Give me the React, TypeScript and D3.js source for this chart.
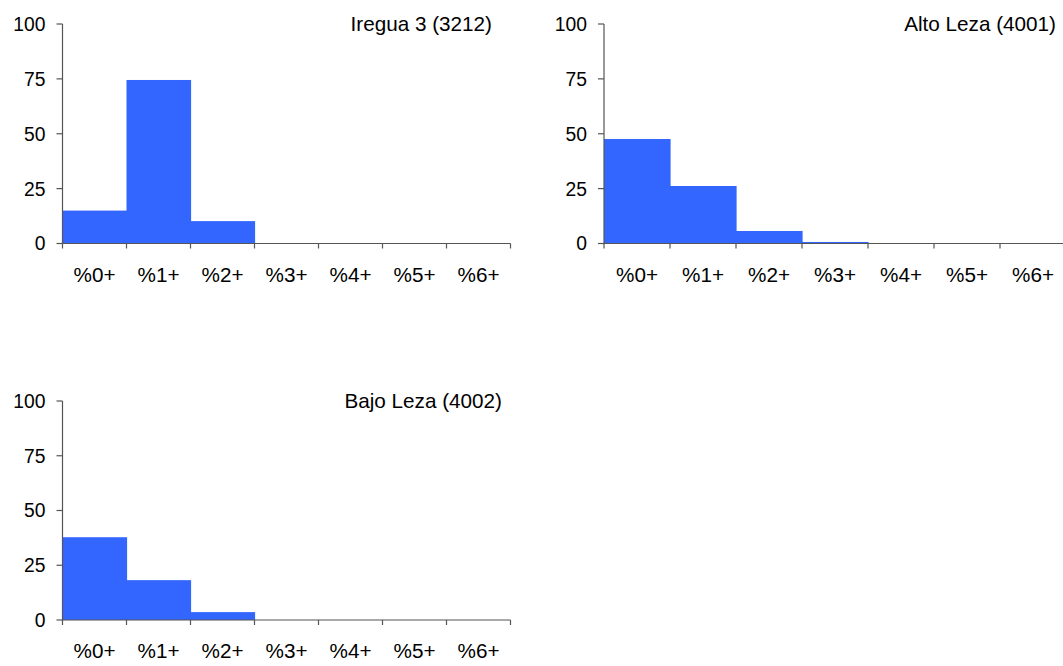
import React from "react";
import * as d3 from "d3";

const categories = ["%0+", "%1+", "%2+", "%3+", "%4+", "%5+", "%6+"];
const yTicks = [0, 25, 50, 75, 100];
const ireguaValues = [15, 74.5, 10.2, 0, 0, 0, 0];
const altoValues = [47.6, 26.2, 5.7, 0.7, 0, 0, 0];
const bajoValues = [37.8, 18.2, 3.6, 0, 0, 0, 0];
const titles = ["Iregua 3 (3212)", "Alto Leza (4001)", "Bajo Leza (4002)"];

const FONT = "'Liberation Sans', Arial, sans-serif";
const BAR = "#3366FF";
const AXIS = "#555555";

type PanelProps = {
  title: string;
  values: number[];
  x0: number;
  x1: number;
  yTop: number;
  yBase: number;
  titleRight: number;
};

function Panel({ title, values, x0, x1, yTop, yBase, titleRight }: PanelProps) {
  const x = d3.scaleBand<string>().domain(categories).range([x0, x1]).padding(0);
  const y = d3.scaleLinear().domain([0, 100]).range([yBase, yTop]);
  const bw = x.bandwidth();
  const boundaries = categories.map((c) => x(c) as number).concat([x1]);
  return (
    <g>
      {values.map((v, i) => (
        <rect
          key={i}
          x={x(categories[i])}
          y={y(v)}
          width={bw + (i < values.length - 1 ? 0.6 : 0)}
          height={y(0) - y(v)}
          fill={BAR}
        />
      ))}
      <line x1={x0} x2={x0} y1={y(100)} y2={y(0)} stroke={AXIS} strokeWidth={1.2} />
      <line x1={x0} x2={x1} y1={y(0)} y2={y(0)} stroke={AXIS} strokeWidth={1.2} />
      {yTicks.map((t) => (
        <g key={t}>
          <line x1={x0 - 6} x2={x0} y1={y(t)} y2={y(t)} stroke={AXIS} strokeWidth={1.2} />
          <text
            x={x0 - 17}
            y={y(t)}
            dy="0.36em"
            textAnchor="end"
            fontFamily={FONT}
            fontSize={19.3}
            fill="#000"
          >
            {t}
          </text>
        </g>
      ))}
      {boundaries.map((b, i) => (
        <line key={i} x1={b} x2={b} y1={y(0)} y2={y(0) + 5} stroke={AXIS} strokeWidth={1.2} />
      ))}
      {categories.map((c) => (
        <text
          key={c}
          x={(x(c) as number) + bw / 2}
          y={y(0) + 38}
          textAnchor="middle"
          fontFamily={FONT}
          fontSize={20.7}
          fill="#000"
        >
          {c}
        </text>
      ))}
      <text
        x={titleRight}
        y={y(100) + 6.5}
        textAnchor="end"
        fontFamily={FONT}
        fontSize={20.7}
        fill="#000"
      >
        {title}
      </text>
    </g>
  );
}

export default function App() {
  return (
    <svg
      width={1063}
      height={666}
      style={{ position: "absolute", left: 0, top: 0, background: "#fff" }}
    >
      <rect x={0} y={0} width={1063} height={666} fill="#fff" />
      <Panel title={titles[0]} values={ireguaValues} x0={62.5} x1={510.5} yTop={24} yBase={243.5} titleRight={492} />
      <Panel title={titles[1]} values={altoValues} x0={604} x1={1066} yTop={24} yBase={243.5} titleRight={1056} />
      <Panel title={titles[2]} values={bajoValues} x0={62.5} x1={510.5} yTop={401} yBase={620} titleRight={502} />
    </svg>
  );
}
